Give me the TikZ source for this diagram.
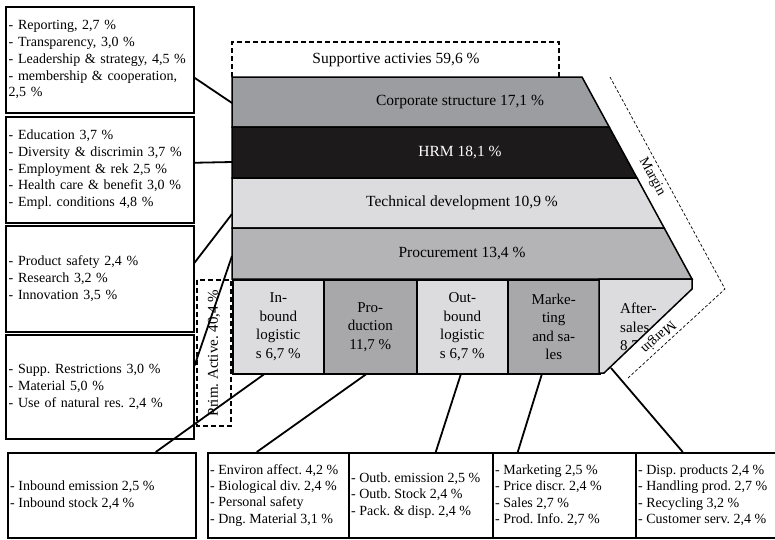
\documentclass[tikz,border=0pt]{standalone}
\usepackage{fontspec}
\setmainfont{Liberation Serif}
\definecolor{cCorp}{RGB}{156,157,161}
\definecolor{cHRM}{RGB}{28,26,27}
\definecolor{cLight}{RGB}{220,220,222}
\definecolor{cProc}{RGB}{180,180,183}
\definecolor{cDark}{RGB}{168,168,171}
\begin{document}
\frenchspacing
\begin{tikzpicture}[x=1pt,y=-1pt,
 lbox/.style={draw=black,line width=1.5pt,fill=white,anchor=north west,inner sep=3pt,align=left,font=\fontsize{14}{16.7}\selectfont},
 bbox/.style={draw=black,line width=1.5pt,fill=white,anchor=north west,inner sep=0pt,minimum height=85pt},
 btxt/.style={anchor=west,inner sep=0pt,align=left,font=\fontsize{14}{16.4}\selectfont},
 pbox/.style={draw=black,line width=1.5pt,anchor=north west,inner sep=1pt,align=center,minimum height=94pt,font=\fontsize{15}{18.5}\selectfont},
 band/.style={draw=black,line width=1.5pt},
 bandtxt/.style={font=\fontsize{15.5}{18}\selectfont,inner sep=0pt},
 conn/.style={draw=black,line width=1.8pt},
 dashbox/.style={draw=black,line width=1.3pt,dash pattern=on 5pt off 3pt},
 mline/.style={draw=black,line width=0.7pt,dash pattern=on 3pt off 2pt},
 mtxt/.style={font=\fontsize{14}{16}\selectfont,inner sep=0pt},
]
\clip (0,0) rectangle (775,539);
\fill[white] (0,0) rectangle (775,539);

% left boxes
\node[lbox,text width=182pt,minimum height=106pt] (lb1) at (5,6) {- Reporting, 2,7 \%\\- Transparency, 3,0 \%\\- Leadership \& strategy, 4,5 \%\\- membership \& cooperation,\\2,5 \%};
\node[lbox,text width=182pt,minimum height=106pt] (lb2) at (5,116) {- Education 3,7 \%\\- Diversity \& discrimin 3,7 \%\\- Employment \& rek 2,5 \%\\- Health care \& benefit 3,0 \%\\- Empl. conditions 4,8 \%};
\node[lbox,text width=182pt,minimum height=106pt] (lb3) at (5,225) {- Product safety 2,4 \%\\- Research 3,2 \%\\- Innovation 3,5 \%};
\node[lbox,text width=182pt,minimum height=104pt] (lb4) at (5,334) {- Supp. Restrictions 3,0 \%\\- Material 5,0 \%\\- Use of natural res. 2,4 \%};

% supportive dashed box
\draw[dashbox] (232,77) -- (232,42) -- (559,42) -- (559,77);
\node[bandtxt] (sup) at (396,60) {Supportive activies 59,6 \%};

% bands
\filldraw[band,fill=cCorp] (232,77) -- (582,77) -- (609.2,127) -- (232,127) -- cycle;
\filldraw[band,fill=cHRM] (232,127) -- (609.2,127) -- (637,178) -- (232,178) -- cycle;
\filldraw[band,fill=cLight] (232,178) -- (637,178) -- (664.2,228) -- (232,228) -- cycle;
\filldraw[band,fill=cProc] (232,228) -- (664.2,228) -- (692,279) -- (232,279) -- cycle;
\node[bandtxt] (corp) at (460,102) {Corporate structure 17,1 \%};
\node[bandtxt,text=white] (hrm) at (460,153) {HRM 18,1 \%};
\node[bandtxt] (tech) at (462,203) {Technical development 10,9 \%};
\node[bandtxt] (proc) at (462,254) {Procurement 13,4 \%};

% primary activities
\node[pbox,fill=cLight,minimum width=91pt] (pin) at (232,279) {In-\\bound\\logistic\\s 6,7 \%};
\node[pbox,fill=cDark,minimum width=93pt] (pprod) at (323,279) {Pro-\\duction\\11,7 \%};
\node[pbox,fill=cLight,minimum width=91pt] (pout) at (416,279) {Out-\\bound\\logistic\\s 6,7 \%};
\node[pbox,fill=cDark,minimum width=92pt] (pmkt) at (507,279) {Marke-\\ting\\and sa-\\les};
\fill[cLight] (599,279) -- (692,279) -- (692,289) -- (604,373) -- (599,373) -- cycle;
\node[anchor=west,align=left,inner sep=0pt,font=\fontsize{15}{18.5}\selectfont] (paft) at (620,328) {After-\\sales\\8,7 \%};
\fill[white] (692,289) -- (740,289) -- (740,420) -- (585,420) -- (604,373) -- cycle;
\draw[band] (599,279) -- (692,279) -- (692,289) -- (604,373) -- (599,373) -- cycle;

% prim. active dashed box
\draw[dashbox] (197,280) rectangle (231,426);
\node[mtxt,rotate=90,font=\fontsize{15}{18}\selectfont] (prim) at (214,353) {Prim. Active. 40,4 \%};

% margin
\coordinate (m1) at (610,77);
\coordinate (m2) at (725,289);
\coordinate (m3) at (628,378);
\draw[mline] (m1) -- (m2) -- (m3);
\node[mtxt,rotate=-61.5] (mar1) at (652,177) {Margin};
\node[mtxt,rotate=-137.5] (mar2) at (658,337) {Margin};

% bottom boxes
\node[bbox,minimum width=188pt] (bb1) at (7,452) {};
\node[bbox,minimum width=141pt] (bb2) at (207,452) {};
\node[bbox,minimum width=144pt] (bb3) at (348,452) {};
\node[bbox,minimum width=143pt] (bb4) at (492,452) {};
\node[bbox,minimum width=150pt] (bb5) at (635,452) {};
\node[btxt] (bt1) at ([xshift=3pt]bb1.west) {- Inbound emission 2,5 \%\\- Inbound stock 2,4 \%};
\node[btxt] (bt2) at ([xshift=3pt]bb2.west) {- Environ affect. 4,2 \%\\- Biological div. 2,4 \%\\- Personal safety\\- Dng. Material 3,1 \%};
\node[btxt] (bt3) at ([xshift=3pt]bb3.west) {- Outb. emission 2,5 \%\\- Outb. Stock 2,4 \%\\- Pack. \& disp. 2,4 \%};
\node[btxt] (bt4) at ([xshift=3pt]bb4.west) {- Marketing 2,5 \%\\- Price discr. 2,4 \%\\- Sales 2,7 \%\\- Prod. Info. 2,7 \%};
\node[btxt] (bt5) at ([xshift=3pt]bb5.west) {- Disp. products 2,4 \%\\- Handling prod. 2,7 \%\\- Recycling 3,2 \%\\- Customer serv. 2,4 \%};

% connectors left
\coordinate (t1) at (232,103);
\coordinate (t2) at (232,162);
\coordinate (t3) at (232,214);
\coordinate (t4) at (232,256);
\draw[conn] ([yshift=-18pt]lb1.east) -- (t1);
\draw[conn] ([yshift=7pt]lb2.east) -- (t2);
\draw[conn] ([yshift=16pt]lb3.east) -- (t3);
\draw[conn] ([yshift=21pt]lb4.east) -- (t4);

% connectors bottom
\coordinate (aft) at (611,368);
\draw[conn] ([xshift=-14.5pt]pin.south) -- ([xshift=54pt]bb1.north);
\draw[conn] ([xshift=-4.5pt]pprod.south) -- ([xshift=-21.5pt]bb2.north);
\draw[conn] ([xshift=-1.5pt]pout.south) -- ([xshift=15pt]bb3.north);
\draw[conn] ([xshift=-12pt]pmkt.south) -- ([xshift=-46.5pt]bb4.north);
\draw[conn] (aft) -- ([xshift=-28pt]bb5.north);
\end{tikzpicture}
\end{document}
